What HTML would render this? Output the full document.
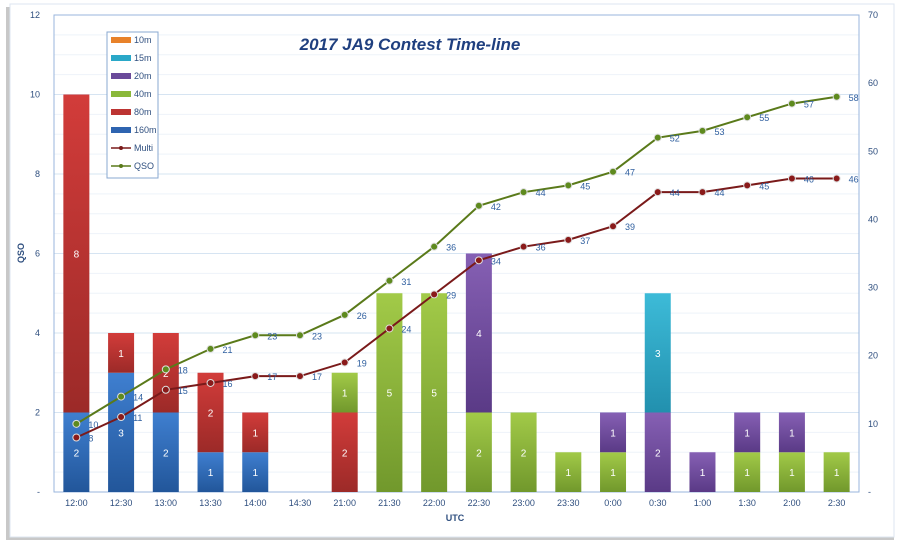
<!DOCTYPE html>
<html><head><meta charset="utf-8"><style>
body{margin:0;background:#fff;}
svg{display:block;font-family:"Liberation Sans",sans-serif;}
</style></head><body>
<svg id="s" width="900" height="545" xmlns="http://www.w3.org/2000/svg">
<defs>
<linearGradient id="gb" x1="0" y1="0" x2="0" y2="1"><stop offset="0" stop-color="#3f7fd0"/><stop offset="1" stop-color="#22569a"/></linearGradient>
<linearGradient id="gr" x1="0" y1="0" x2="0" y2="1"><stop offset="0" stop-color="#d23c3a"/><stop offset="1" stop-color="#9c2a28"/></linearGradient>
<linearGradient id="gg" x1="0" y1="0" x2="0" y2="1"><stop offset="0" stop-color="#a2ca48"/><stop offset="1" stop-color="#71982c"/></linearGradient>
<linearGradient id="gp" x1="0" y1="0" x2="0" y2="1"><stop offset="0" stop-color="#8660b4"/><stop offset="1" stop-color="#5a3a86"/></linearGradient>
<linearGradient id="gc" x1="0" y1="0" x2="0" y2="1"><stop offset="0" stop-color="#3dbbd8"/><stop offset="1" stop-color="#2290ae"/></linearGradient>
</defs>
<rect x="6" y="7" width="888" height="533" fill="#c8c8c8"/>
<rect x="10" y="4" width="884" height="533" fill="#fff" stroke="#dde6f0"/>
<g id="g"></g>
</svg>
<script>
const g=document.getElementById('g');let h='';
const L=54,R=859,T=15,B=492;
const yl=v=>B-v*(B-T)/12, yr=v=>B-v*(B-T)/70;
for(let i=0;i<=24;i++){const y=B-i*(B-T)/24;h+=`<line x1="${L}" x2="${R}" y1="${y}" y2="${y}" stroke="${i%4==0?'#d6e4f2':'#eef3f9'}" stroke-width="1"/>`;}
h+=`<rect x="${L}" y="${T}" width="${R-L}" height="${B-T}" fill="none" stroke="#9ab6dc" stroke-width="1"/>`;
for(let i=0;i<=12;i+=2)h+=`<text x="40" y="${yl(i)+3}" font-size="9" fill="#2f4f7f" text-anchor="end">${i==0?'-':i}</text>`;
for(let i=0;i<=70;i+=10)h+=`<text x="868" y="${yr(i)+3}" font-size="9" fill="#2f4f7f">${i==0?'-':i}</text>`;
const cats=['12:00','12:30','13:00','13:30','14:00','14:30','21:00','21:30','22:00','22:30','23:00','23:30','0:00','0:30','1:00','1:30','2:00','2:30'];
const d=[[2,8,0,0,0],[3,1,0,0,0],[2,2,0,0,0],[1,2,0,0,0],[1,1,0,0,0],[0,0,0,0,0],[0,2,1,0,0],[0,0,5,0,0],[0,0,5,0,0],[0,0,2,4,0],[0,0,2,0,0],[0,0,1,0,0],[0,0,1,1,0],[0,0,0,2,3],[0,0,0,1,0],[0,0,1,1,0],[0,0,1,1,0],[0,0,1,0,0]];
const fills=['url(#gb)','url(#gr)','url(#gg)','url(#gp)','url(#gc)'];
const sw=(R-L)/18;const cx=i=>L+sw*(i+0.5);
d.forEach((r,i)=>{let acc=0;r.forEach((v,k)=>{if(!v)return;const y1=yl(acc+v),y0=yl(acc);h+=`<rect x="${cx(i)-13}" y="${y1}" width="26" height="${y0-y1}" fill="${fills[k]}"/>`;h+=`<text x="${cx(i)}" y="${(y0+y1)/2+4}" font-size="10" fill="#fff" text-anchor="middle">${v}</text>`;acc+=v;});
h+=`<text x="${cx(i)}" y="506" font-size="9" fill="#2f4f7f" text-anchor="middle">${cats[i]}</text>`;});
const q=[10,14,18,21,23,23,26,31,36,42,44,45,47,52,53,55,57,58],m=[8,11,15,16,17,17,19,24,29,34,36,37,39,44,44,45,46,46];
[[q,'#5a7a1a','#5e8a1e'],[m,'#7a1a1a','#8a1a1a']].forEach(([a,c,f])=>{h+=`<polyline fill="none" stroke="${c}" stroke-width="2" points="${a.map((v,i)=>cx(i)+','+yr(v)).join(' ')}"/>`;
a.forEach((v,i)=>{h+=`<circle cx="${cx(i)}" cy="${yr(v)}" r="3.5" fill="${f}" stroke="#ddd" stroke-width="1"/><text x="${cx(i)+12}" y="${yr(v)+4}" font-size="9" fill="#2f5f9f">${v}</text>`;});});
h+=`<text x="410" y="50" font-size="17" font-weight="bold" font-style="italic" fill="#1f3f7f" text-anchor="middle">2017 JA9 Contest Time-line</text>`;
h+=`<text x="455" y="521" font-size="9" font-weight="bold" fill="#2f4f7f" text-anchor="middle">UTC</text>`;
h+=`<text x="24" y="253" font-size="9" font-weight="bold" fill="#2f4f7f" text-anchor="middle" transform="rotate(-90 24 253)">QSO</text>`;
h+=`<rect x="107" y="32" width="51" height="146" fill="#fff" stroke="#8aa8d0"/>`;
const lg=[['10m','#e8822a'],['15m','#2aa8c8'],['20m','#6a4a9a'],['40m','#8ab83a'],['80m','#bc3432'],['160m','#2e64b0']];
lg.forEach(([t,c],i)=>{const y=40+i*18;h+=`<rect x="111" y="${y-3}" width="20" height="6" fill="${c}"/><text x="134" y="${y+3}" font-size="9" fill="#2f4f7f">${t}</text>`;});
[['Multi','#7a1a1a'],['QSO','#5a7a1a']].forEach(([t,c],i)=>{const y=40+(6+i)*18;h+=`<line x1="111" x2="131" y1="${y}" y2="${y}" stroke="${c}" stroke-width="1.5"/><circle cx="121" cy="${y}" r="2" fill="${c}"/><text x="134" y="${y+3}" font-size="9" fill="#2f4f7f">${t}</text>`;});
g.innerHTML=h;
</script>
</body></html>
